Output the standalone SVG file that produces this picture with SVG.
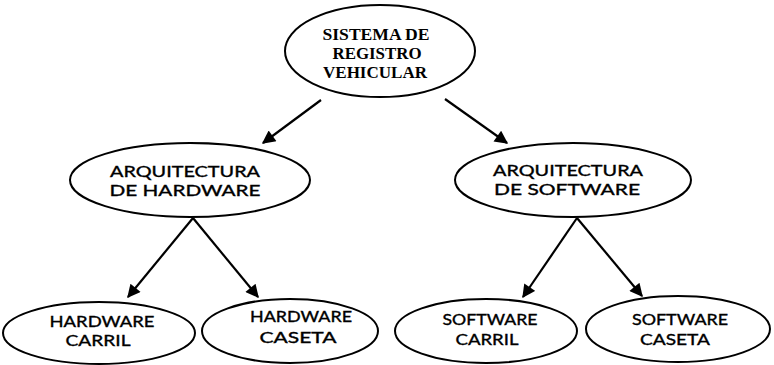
<svg xmlns="http://www.w3.org/2000/svg" width="774" height="365" viewBox="0 0 774 365">
<style>
.n ellipse{fill:#fff;stroke:#000;stroke-width:2}
.t{font-family:"Liberation Serif","Times New Roman",serif;font-size:16px;font-weight:bold;fill:#000;text-anchor:middle}
.s{font-family:"Lato","Liberation Sans",sans-serif;font-size:15px;fill:#000;stroke:#000;stroke-width:0.35;text-anchor:middle}
.c line{stroke:#000;stroke-width:2.2}
</style>
<defs>
<marker id="ah" viewBox="0 0 10 10" refX="9" refY="5" markerWidth="7" markerHeight="6" markerUnits="strokeWidth" orient="auto">
<path d="M0,0 L10,5 L0,10 z" fill="#000"/>
</marker>
</defs>
<rect width="774" height="365" fill="#fff"/>
<g id="connectors" class="c">
<line x1="321" y1="100" x2="263" y2="143" marker-end="url(#ah)"/>
<line x1="445" y1="99" x2="507" y2="143" marker-end="url(#ah)"/>
<line x1="193" y1="218" x2="128" y2="297" marker-end="url(#ah)"/>
<line x1="193" y1="218" x2="258" y2="297" marker-end="url(#ah)"/>
<line x1="577" y1="218" x2="523" y2="297" marker-end="url(#ah)"/>
<line x1="577" y1="218" x2="642" y2="296" marker-end="url(#ah)"/>
</g>
<g id="n-sistema" class="n">
<ellipse cx="380" cy="51" rx="95" ry="46"/>
<text class="t" x="376" y="40" textLength="107" lengthAdjust="spacingAndGlyphs">SISTEMA DE</text>
<text class="t" x="377" y="59" textLength="89" lengthAdjust="spacingAndGlyphs">REGISTRO</text>
<text class="t" x="375" y="78" textLength="104" lengthAdjust="spacingAndGlyphs">VEHICULAR</text>
</g>
<g id="n-arq-hw" class="n">
<ellipse cx="190" cy="180" rx="120" ry="37"/>
<text class="s" x="185" y="177" textLength="150" lengthAdjust="spacingAndGlyphs">ARQUITECTURA</text>
<text class="s" x="185" y="196" textLength="151" lengthAdjust="spacingAndGlyphs">DE  HARDWARE</text>
</g>
<g id="n-arq-sw" class="n">
<ellipse cx="573" cy="180" rx="118" ry="37"/>
<text class="s" x="568" y="176" textLength="150" lengthAdjust="spacingAndGlyphs">ARQUITECTURA</text>
<text class="s" x="567" y="195" textLength="146" lengthAdjust="spacingAndGlyphs">DE  SOFTWARE</text>
</g>
<g id="n-hw-carril" class="n">
<ellipse cx="99" cy="333" rx="96" ry="31"/>
<text class="s" x="102" y="327" textLength="105" lengthAdjust="spacingAndGlyphs">HARDWARE</text>
<text class="s" x="98" y="346" textLength="65" lengthAdjust="spacingAndGlyphs">CARRIL</text>
</g>
<g id="n-hw-caseta" class="n">
<ellipse cx="290" cy="331" rx="88" ry="32"/>
<text class="s" x="301" y="322" textLength="102" lengthAdjust="spacingAndGlyphs">HARDWARE</text>
<text class="s" x="298" y="343" textLength="77" lengthAdjust="spacingAndGlyphs">CASETA</text>
</g>
<g id="n-sw-carril" class="n">
<ellipse cx="486" cy="331" rx="91" ry="32"/>
<text class="s" x="490" y="325" textLength="95" lengthAdjust="spacingAndGlyphs">SOFTWARE</text>
<text class="s" x="487" y="345" textLength="63" lengthAdjust="spacingAndGlyphs">CARRIL</text>
</g>
<g id="n-sw-caseta" class="n">
<ellipse cx="678" cy="329" rx="92" ry="33"/>
<text class="s" x="680" y="325" textLength="96" lengthAdjust="spacingAndGlyphs">SOFTWARE</text>
<text class="s" x="675" y="345" textLength="70" lengthAdjust="spacingAndGlyphs">CASETA</text>
</g>
</svg>
